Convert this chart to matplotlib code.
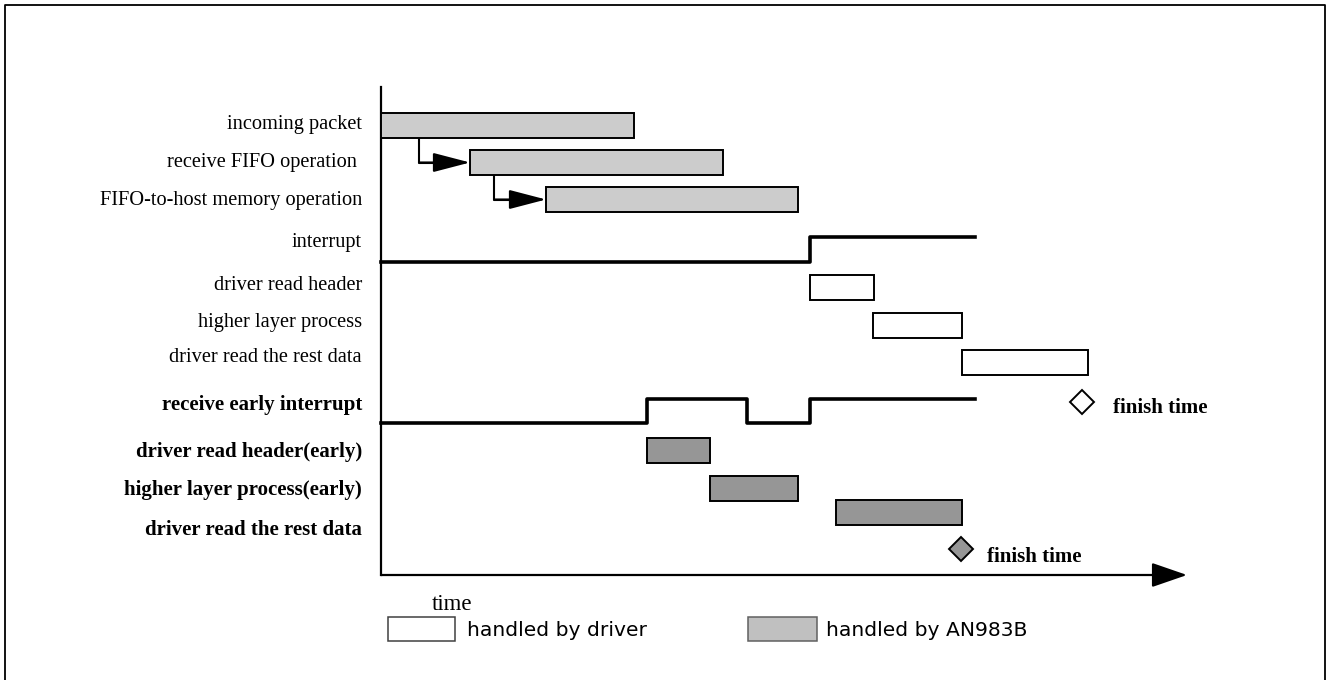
import matplotlib
matplotlib.use('Agg')
import matplotlib.pyplot as plt
from matplotlib.patches import Rectangle
from matplotlib.lines import Line2D

# time values (1 unit = one tenth of the drawn time axis step)
row_names = ['incoming packet', 'receive FIFO operation ', 'FIFO-to-host memory operation',
             'interrupt', 'driver read header', 'higher layer process', 'driver read the rest data']
early_names = ['receive early interrupt', 'driver read header(early)',
               'higher layer process(early)', 'driver read the rest data']

nic_start = [0.0, 8.9, 16.5]
nic_end = [25.3, 34.2, 41.7]

drv_start = [42.9, 49.2, 58.1]
drv_end = [49.3, 58.1, 70.7]
drv_finish = 70.1

early_start = [26.6, 32.9, 45.5]
early_end = [32.9, 41.7, 58.1]
early_finish = 58.0

int_t = [0.0, 42.9, 59.4]
int_v = [0, 1, 1]
eint_t = [0.0, 26.6, 36.6, 42.9, 59.4]
eint_v = [0, 1, 0, 1, 1]

link_t = [3.8, 11.3]   # where the FIFO arrows leave the bar above
t_max = 80.6

legend_labels = ['handled by driver', 'handled by AN983B']

# layout (pixels from top of image)
W, H = 1329, 680
x0 = 381
scale = 10.0
nic_top = [113, 150, 187]
drv_top = [275, 313, 350]
early_top = [438, 476, 500]
bar_h = 25
int_low, int_high = 262, 237
eint_low, eint_high = 423, 399
label_y = [125, 163, 200, 242, 285, 322, 357]
early_label_y = [405, 452, 490, 530]
axis_y = 575

light = '#cccccc'
dark = '#969696'
serif = ['Liberation Serif', 'DejaVu Serif']

fig = plt.figure(figsize=(W / 100, H / 100), dpi=100)
ax = fig.add_axes([0, 0, 1, 1])
ax.set_xlim(-x0 / scale, (W - x0) / scale)
ax.set_ylim(H, 0)
ax.axis('off')

# outer frame (bottom edge is cut off in the original)
fig.add_artist(Line2D([5 / W, 5 / W, 1325 / W, 1325 / W], [-0.1, 1 - 5 / H, 1 - 5 / H, -0.1],
                      transform=fig.transFigure, color='black', lw=1.3))

# bars
def bar(t0, t1, top, fc):
    ax.add_patch(Rectangle((t0, top), t1 - t0, bar_h, facecolor=fc, edgecolor='black', lw=1.4, zorder=3))

for s, e, top in zip(nic_start, nic_end, nic_top):
    bar(s, e, top, light)
for s, e, top in zip(drv_start, drv_end, drv_top):
    bar(s, e, top, 'white')
for s, e, top in zip(early_start, early_end, early_top):
    bar(s, e, top, dark)

# arrows from one FIFO stage to the next
small_head = dict(arrowstyle='-|>,head_length=1.15,head_width=0.3', mutation_scale=20,
                  color='black', lw=1.5, shrinkA=0, shrinkB=0)
for i in range(2):
    t = link_t[i]
    yc = nic_top[i + 1] + bar_h / 2
    ax.plot([t, t, nic_start[i + 1] - 1], [nic_top[i] + bar_h, yc, yc], color='black', lw=1.5, zorder=2)
    ax.annotate('', xy=(nic_start[i + 1], yc), xytext=(t, yc), arrowprops=small_head)

# interrupt signals
ax.plot(int_t, [int_low - v * (int_low - int_high) for v in int_v], drawstyle='steps-post',
        color='black', lw=2.6)
ax.plot(eint_t, [eint_low - v * (eint_low - eint_high) for v in eint_v], drawstyle='steps-post',
        color='black', lw=2.6)

# finish markers
ax.plot(drv_finish, 402, marker='D', ms=12, mfc='white', mec='black', mew=1.4)
ax.text(drv_finish + 3.1, 408, 'finish time', fontsize=15, fontweight='bold', family=serif, va='center')
ax.plot(early_finish, 549, marker='D', ms=12, mfc=dark, mec='black', mew=1.4)
ax.text(early_finish + 2.6, 557, 'finish time', fontsize=15, fontweight='bold', family=serif, va='center')

# axes
ax.plot([0, 0], [87, axis_y], color='black', lw=1.6)
ax.annotate('', xy=(t_max, axis_y), xytext=(0, axis_y),
            arrowprops=dict(arrowstyle='-|>,head_length=1.1,head_width=0.38', mutation_scale=20,
                            color='black', lw=1.6, shrinkA=0, shrinkB=0))
ax.text(5.1, 605, 'time', fontsize=16.5, family=serif, ha='left', va='center')

# row labels
for name, y in zip(row_names, label_y):
    ax.text(-1.9, y, name, fontsize=14.7, family=serif, ha='right', va='center')
for name, y in zip(early_names, early_label_y):
    ax.text(-1.9, y, name, fontsize=15, fontweight='bold', family=serif, ha='right', va='center')

# legend
ax.add_patch(Rectangle((0.7, 617), 6.7, 24, facecolor='white', edgecolor='#404040', lw=1.1))
ax.text(8.6, 630, legend_labels[0], fontsize=14.6, family='DejaVu Sans', va='center')
ax.add_patch(Rectangle((36.7, 617), 6.9, 24, facecolor='#c0c0c0', edgecolor='#606060', lw=1.1))
ax.text(44.5, 630, legend_labels[1], fontsize=14.6, family='DejaVu Sans', va='center')

plt.savefig('out.png', dpi=100)
